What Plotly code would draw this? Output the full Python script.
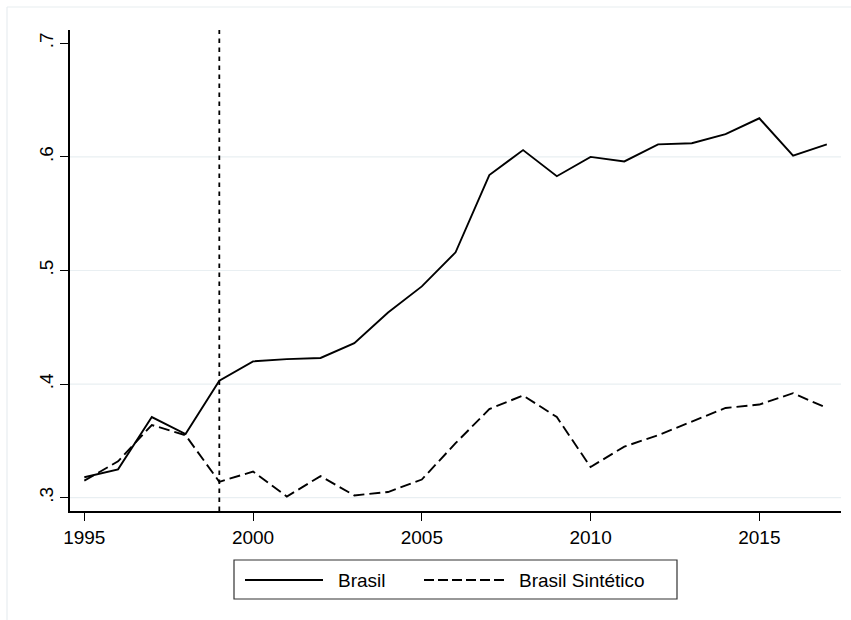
import plotly.graph_objects as go

# Series values by year
years = list(range(1995, 2018))
brasil = [0.318, 0.325, 0.371, 0.356, 0.403, 0.420, 0.422, 0.423, 0.436, 0.463,
          0.486, 0.516, 0.584, 0.606, 0.583, 0.600, 0.596, 0.611, 0.612, 0.620,
          0.634, 0.601, 0.611]
sintetico = [0.315, 0.332, 0.364, 0.355, 0.314, 0.323, 0.301, 0.319, 0.302, 0.305,
             0.316, 0.348, 0.378, 0.390, 0.371, 0.327, 0.345, 0.355, 0.367, 0.379,
             0.382, 0.392, 0.379]
series_names = ["Brasil", "Brasil Sintético"]
treatment_year = 1999

y_ticks = [0.3, 0.4, 0.5, 0.6, 0.7]
y_ticktext = [".3", ".4", ".5", ".6", ".7"]
x_ticks = [1995, 2000, 2005, 2010, 2015]
grid_values = [0.3, 0.4, 0.5, 0.6]

W, H = 851, 620
ML, MR, MT, MB = 70, 10, 30, 109
PW, PH = W - ML - MR, H - MT - MB

FONT = "Liberation Sans, Arial, Helvetica, sans-serif"
DASH_SYN = "11px,5px"


def px_x(px):
    return (px - ML) / PW


def px_y(py):
    return (H - MB - py) / PH


fig = go.Figure()

fig.add_trace(go.Scatter(x=years, y=brasil, mode="lines", name=series_names[0],
                         line=dict(color="black", width=1.9), showlegend=False))
fig.add_trace(go.Scatter(x=years, y=sintetico, mode="lines", name=series_names[1],
                         line=dict(color="black", width=1.9, dash=DASH_SYN),
                         showlegend=False))

shapes = []
# horizontal gridlines
for g in grid_values:
    shapes.append(dict(type="line", xref="paper", x0=0, x1=1, yref="y", y0=g, y1=g,
                       line=dict(color="#e9eff2", width=1.2), layer="below"))
# treatment year marker
shapes.append(dict(type="line", xref="x", x0=treatment_year, x1=treatment_year,
                   yref="paper", y0=0, y1=1,
                   line=dict(color="black", width=1.8, dash="4.5px,4.5px")))
# faint outer frame
shapes.append(dict(type="line", xref="paper", yref="paper",
                   x0=px_x(7), x1=px_x(W + 5), y0=px_y(7), y1=px_y(7),
                   line=dict(color="#e8edf0", width=1.2)))
shapes.append(dict(type="line", xref="paper", yref="paper",
                   x0=px_x(7), x1=px_x(7), y0=px_y(7), y1=px_y(H + 5),
                   line=dict(color="#e8edf0", width=1.2)))

# legend box
shapes.append(dict(type="rect", xref="paper", yref="paper",
                   x0=px_x(234), x1=px_x(677), y0=px_y(599), y1=px_y(560),
                   line=dict(color="#333333", width=1.2), fillcolor="white"))
shapes.append(dict(type="line", xref="paper", yref="paper",
                   x0=px_x(245), x1=px_x(323), y0=px_y(580), y1=px_y(580),
                   line=dict(color="black", width=1.9)))
shapes.append(dict(type="line", xref="paper", yref="paper",
                   x0=px_x(424), x1=px_x(505), y0=px_y(580), y1=px_y(580),
                   line=dict(color="black", width=1.9, dash="10px,4px")))

annotations = [
    dict(text=series_names[0], xref="paper", yref="paper", x=px_x(336), y=px_y(580),
         xanchor="left", yanchor="middle", showarrow=False,
         font=dict(family=FONT, size=19, color="black")),
    dict(text=series_names[1], xref="paper", yref="paper", x=px_x(517), y=px_y(580),
         xanchor="left", yanchor="middle", showarrow=False,
         font=dict(family=FONT, size=19, color="black")),
]

fig.update_layout(
    width=W, height=H,
    margin=dict(l=ML, r=MR, t=MT, b=MB),
    paper_bgcolor="white", plot_bgcolor="white",
    font=dict(family=FONT, size=19, color="black"),
    shapes=shapes, annotations=annotations,
    showlegend=False,
    xaxis=dict(range=[1994.576, 2017.42], tickvals=x_ticks, showgrid=False,
               zeroline=False, showline=True, linecolor="black", linewidth=1.5,
               ticks="outside", ticklen=8, tickwidth=1.2, tickcolor="black",
               tickfont=dict(family=FONT, size=19, color="black")),
    yaxis=dict(range=[0.2883, 0.7117], tickvals=y_ticks, ticktext=y_ticktext,
               tickangle=-90, showgrid=False, zeroline=False, showline=True,
               linecolor="black", linewidth=1.5, ticks="outside", ticklen=8,
               tickwidth=1.2, tickcolor="black",
               tickfont=dict(family=FONT, size=19, color="black")),
)

fig.write_html("out.html")
